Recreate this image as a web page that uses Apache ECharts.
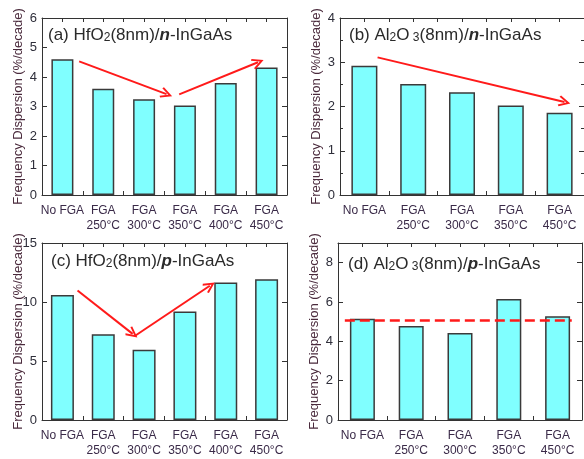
<!DOCTYPE html>
<html>
<head>
<meta charset="utf-8">
<script src="https://cdn.jsdelivr.net/npm/echarts@6/dist/echarts.min.js"></script>
<style>
  html, body { margin: 0; padding: 0; background: #fff; }
  #chart { width: 584px; height: 459px; }
</style>
</head>
<body>
<div id="chart"></div>
<script>
// Category labels
var catsHfO2 = ['No FGA', 'FGA\n250°C', 'FGA\n300°C', 'FGA\n350°C', 'FGA\n400°C', 'FGA\n450°C'];
var catsAl2O3 = ['No FGA', 'FGA\n250°C', 'FGA\n300°C', 'FGA\n350°C', 'FGA\n450°C'];

// Frequency dispersion (%/decade)
var valsA = [4.6, 3.6, 3.25, 3.03, 3.8, 4.32];     // HfO2 / n-InGaAs
var valsB = [2.92, 2.51, 2.32, 2.02, 1.86];        // Al2O3 / n-InGaAs
var valsC = [10.6, 7.27, 5.95, 9.2, 11.65, 11.93]; // HfO2 / p-InGaAs
var valsD = [5.15, 4.78, 4.42, 6.15, 5.27];        // Al2O3 / p-InGaAs

// Trend arrows, [start, end] in (category index, value)
var arrowsA = [[[0.41, 4.53], [2.55, 3.42]], [[2.86, 3.41], [4.79, 4.50]]];
var arrowsB = [[[0.27, 3.11], [4.10, 2.10]]];
var arrowsC = [[[0.37, 10.98], [1.72, 7.30]], [[1.79, 7.16], [3.61, 11.38]]];
// Reference level in panel (d)
var refD = 5.07;
var refDSpan = [-0.36, 4.29];

// Y-axis ranges and tick steps
var yTicksA = { max: 6, interval: 1 };
var yTicksB = { max: 4, interval: 1 };
var yTicksC = { max: 15, interval: 5 };
var yTicksD = { max: 9, interval: 2 };

var chart = echarts.init(document.getElementById('chart'), null, { renderer: 'canvas' });

var AXIS_COLOR = '#333';
var LABEL_COLOR = '#3a2a48';
var NAME_COLOR = '#4a2a3c';
var BAR_FILL = '#80ffff';
var BAR_EDGE = '#3a3a3a';
var RED = '#ff1a1a';
var FONT = 'Arial, "Liberation Sans", sans-serif';
var ARROW_HEAD = 'path://M5,0 L10,9 L8.6,10 L5,3.4 L1.4,10 L0,9 Z';

var panels = [
  { grid: { left: 42, top: 18, width: 245, height: 177 }, cats: catsHfO2, vals: valsA, y: yTicksA, minor: false, barWidth: 22, arrows: arrowsA,
    title: { left: 43, top: 22, text: '{a|(a) HfO}{s|2}{a|(8nm)/}{b|n}{a|-InGaAs}' } },
  { grid: { left: 340, top: 18, width: 245, height: 177 }, cats: catsAl2O3, vals: valsB, y: yTicksB, minor: true, barWidth: 26, arrows: arrowsB,
    title: { left: 344, top: 22, text: '{a|(b) Al}{s|2}{a|O}{s| 3}{a|(8nm)/}{b|n}{a|-InGaAs}' } },
  { grid: { left: 42, top: 243, width: 245, height: 177 }, cats: catsHfO2, vals: valsC, y: yTicksC, minor: false, barWidth: 23, arrows: arrowsC,
    title: { left: 46, top: 248, text: '{a|(c) HfO}{s|2}{a|(8nm)/}{b|p}{a|-InGaAs}' } },
  { grid: { left: 338, top: 243, width: 244, height: 177 }, cats: catsAl2O3, vals: valsD, y: yTicksD, minor: false, barWidth: 25, arrows: [],
    title: { left: 343, top: 251, text: '{a|(d) Al}{s|2}{a|O}{s| 3}{a|(8nm)/}{b|p}{a|-InGaAs}' } }
];

var grids = [], xAxes = [], yAxes = [], series = [], titles = [];

panels.forEach(function (p, i) {
  grids.push(p.grid);
  var n = p.cats.length;
  var xCat = xAxes.length;
  // Category axis carrying the labels
  xAxes.push({
    type: 'category', gridIndex: i, position: 'bottom', data: p.cats,
    axisLine: { show: true, lineStyle: { color: AXIS_COLOR, width: 1 } },
    axisTick: { show: false },
    axisLabel: { color: LABEL_COLOR, fontSize: 12, fontFamily: FONT, margin: 8, lineHeight: 15, interval: 0 },
    splitLine: { show: false }
  });
  // Value axes for ticks at bar centres and boundaries
  var xVal = xAxes.length;
  ['bottom', 'top'].forEach(function (pos) {
    xAxes.push({
      type: 'value', gridIndex: i, position: pos, min: -0.5, max: n - 0.5, interval: 0.5,
      axisLine: { show: pos === 'top', onZero: false, lineStyle: { color: AXIS_COLOR, width: 1 } },
      axisTick: { show: true, inside: true, length: 4, lineStyle: { color: AXIS_COLOR } },
      axisLabel: { show: false },
      splitLine: { show: false }
    });
  });
  var yLeft = yAxes.length;
  ['left', 'right'].forEach(function (pos) {
    yAxes.push({
      type: 'value', gridIndex: i, position: pos, min: 0, max: p.y.max, interval: p.y.interval,
      name: pos === 'left' ? 'Frequency Dispersion (%/decade)' : '',
      nameLocation: 'middle', nameGap: 17, nameMoveOverlap: false,
      nameTextStyle: { color: NAME_COLOR, fontSize: 13, fontFamily: FONT },
      axisLine: { show: true, onZero: false, lineStyle: { color: AXIS_COLOR, width: 1 } },
      axisTick: { show: true, inside: true, length: 5, lineStyle: { color: AXIS_COLOR } },
      minorTick: { show: p.minor, splitNumber: 2, length: 3, lineStyle: { color: AXIS_COLOR } },
      axisLabel: { show: pos === 'left', color: '#2e2e3a', fontSize: 13, fontFamily: FONT, margin: 5, showMaxLabel: p.y.max % p.y.interval === 0 },
      splitLine: { show: false }
    });
  });

  series.push({
    type: 'bar', xAxisIndex: xCat, yAxisIndex: yLeft, data: p.vals, barWidth: p.barWidth,
    itemStyle: { color: BAR_FILL, borderColor: BAR_EDGE, borderWidth: 1.5 },
    silent: true, animation: false
  });

  var marks = p.arrows.map(function (a) {
    return [{ coord: a[0] }, { coord: a[1] }];
  });
  var markLine;
  if (marks.length) {
    markLine = {
      silent: true, animation: false, symbol: ['none', ARROW_HEAD], symbolSize: [11, 12],
      lineStyle: { color: RED, width: 2, type: 'solid' }, label: { show: false }, data: marks
    };
  } else {
    markLine = {
      silent: true, animation: false, symbol: ['none', 'none'],
      lineStyle: { color: RED, width: 2.5, type: [10, 5] }, label: { show: false },
      data: [[{ coord: [refDSpan[0], refD] }, { coord: [refDSpan[1], refD] }]]
    };
  }
  series.push({
    type: 'line', xAxisIndex: xVal, yAxisIndex: yLeft, data: [], showSymbol: false,
    markLine: markLine, animation: false
  });

  titles.push({
    left: p.title.left, top: p.title.top, text: p.title.text,
    textStyle: {
      fontWeight: 'normal',
      rich: {
        a: { fontSize: 17, color: '#2a2a2a', fontFamily: FONT, fontWeight: 'normal' },
        s: { fontSize: 12, color: '#2a2a2a', fontFamily: FONT, fontWeight: 'normal', padding: [4, 0, 0, 0] },
        b: { fontSize: 17, color: '#2a2a2a', fontFamily: FONT, fontWeight: 'bold', fontStyle: 'italic' }
      }
    }
  });
});

chart.setOption({
  backgroundColor: '#fff',
  animation: false,
  title: titles,
  grid: grids,
  xAxis: xAxes,
  yAxis: yAxes,
  series: series
});
</script>
</body>
</html>
